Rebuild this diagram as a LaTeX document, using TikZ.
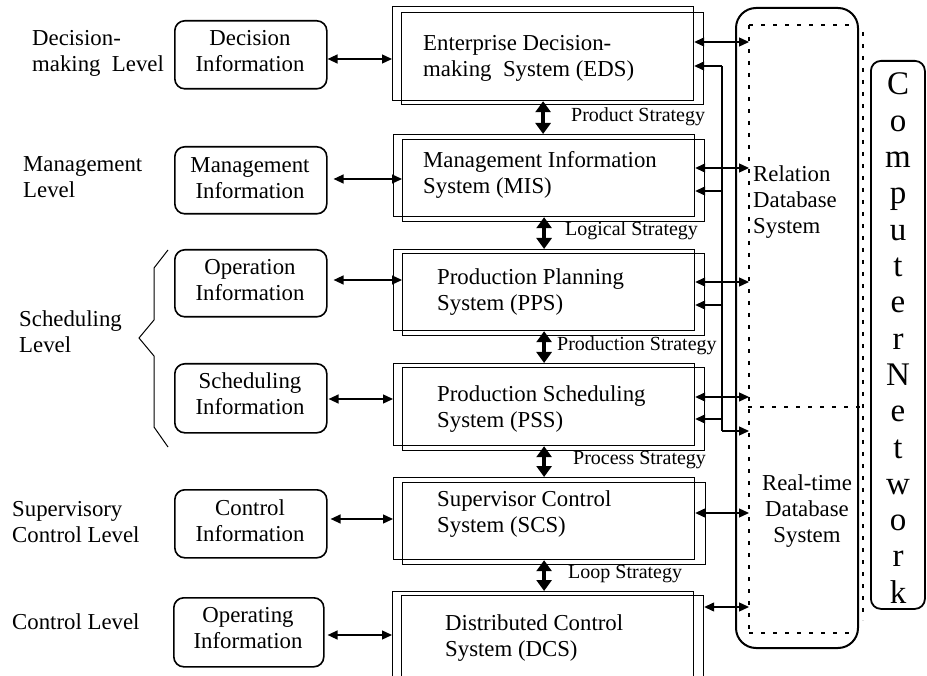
\documentclass[tikz,border=0pt]{standalone}
\usepackage{fontspec}
\setmainfont{Liberation Serif}
\usetikzlibrary{arrows.meta}

\tikzset{
  frame/.style={draw, line width=1.2pt, anchor=north west, inner sep=0pt,
    minimum width=#1},
  infobox/.style={draw, line width=1.6pt, rounded corners=10pt, anchor=north west,
    inner sep=0pt, minimum width=152pt},
  txt/.style={inner sep=0pt, font=\fontsize{22.8}{26}\selectfont},
  systxt/.style={txt, anchor=west, align=left},
  lvltxt/.style={txt, anchor=west, align=left},
  infotxt/.style={txt, align=center},
  strat/.style={inner sep=0pt, anchor=west, font=\fontsize{20}{22}\selectfont},
  flow/.style={line width=4.5pt,
    {Triangle[width=15pt,length=11pt]}-{Triangle[width=15pt,length=11pt]}},
  link/.style={line width=1.3pt,
    {Triangle[width=9pt,length=10pt]}-{Triangle[width=9pt,length=10pt]}},
  feed/.style={line width=1.3pt, -{Triangle[width=9pt,length=10pt]}},
  dotline/.style={line width=1.2pt, dash pattern=on 4pt off 8pt},
  netletter/.style={inner sep=0pt, anchor=base, font=\fontsize{33}{36}\selectfont},
}

\begin{document}
\begin{tikzpicture}[x=1pt,y=-1pt]
\useasboundingbox (0,0) rectangle (927,676);
\clip (0,0) rectangle (927,676);

% ---- system layers: each drawn as two offset frames ----
\node[frame=301pt, minimum height=94pt] (eds) at (392,6) {};
\node[frame=302pt, minimum height=92pt] (eds2) at (401,12) {};
\node[frame=301pt, minimum height=82pt] (mis) at (393,134) {};
\node[frame=302pt, minimum height=82pt] (mis2) at (402,139) {};
\node[frame=301pt, minimum height=81pt] (pps) at (393,249) {};
\node[frame=302pt, minimum height=82pt] (pps2) at (402,253) {};
\node[frame=301pt, minimum height=82pt] (pss) at (393,363) {};
\node[frame=302pt, minimum height=83pt] (pss2) at (402,367) {};
\node[frame=301pt, minimum height=82pt] (scs) at (393,477) {};
\node[frame=303pt, minimum height=82pt] (scs2) at (402,482) {};
\node[frame=301pt, minimum height=120pt] (dcs) at (392,591) {};
\node[frame=302pt, minimum height=120pt] (dcs2) at (401,595) {};

\node[systxt] (edsT) at (423,58.5) {Enterprise Decision-\\making\ \ System (EDS)};
\node[systxt] (misT) at (423,175) {Management Information\\System (MIS)};
\node[systxt] (ppsT) at (437,292.5) {Production Planning\\System (PPS)};
\node[systxt] (pssT) at (437,409) {Production Scheduling\\System (PSS)};
\node[systxt] (scsT) at (437,514.5) {Supervisor Control\\System (SCS)};
\node[systxt] (dcsT) at (445,638.5) {Distributed Control\\System (DCS)};

% ---- strategies passed between layers ----
\draw[flow] (eds.south) -- (eds.south |- mis.north);
\draw[flow] (mis.south) -- (mis.south |- pps.north);
\draw[flow] (pps.south) -- (pps.south |- pss.north);
\draw[flow] (pss.south) -- (pss.south |- scs.north);
\draw[flow] (scs.south) -- (scs.south |- dcs.north);

\node[strat] (s1) at (571,117) {Product Strategy};
\node[strat] (s2) at (565,231) {Logical Strategy};
\node[strat] (s3) at (557,346) {Production Strategy};
\node[strat] (s4) at (573,460) {Process Strategy};
\node[strat] (s5) at (568,574) {Loop Strategy};

% ---- information boxes ----
\node[infobox, minimum height=68pt] (decI) at (174,20) {};
\node[infobox, minimum height=67pt] (manI) at (174,146) {};
\node[infobox, minimum height=67pt] (opI) at (174,249) {};
\node[infobox, minimum height=69pt] (schI) at (174,363) {};
\node[infobox, minimum height=68pt] (conI) at (174,489) {};
\node[infobox, minimum height=69pt, minimum width=150pt] (opgI) at (173,597) {};

\node[infotxt] (decT) at (250,51.5) {Decision\\Information};
\node[infotxt] (manT) at (250,178.5) {Management\\Information};
\node[infotxt] (opT) at (250,280.5) {Operation\\Information};
\node[infotxt] (schT) at (250,393.5) {Scheduling\\Information};
\node[infotxt] (conT) at (250,521) {Control\\Information};
\node[infotxt] (opgT) at (248,628.5) {Operating\\Information};

\draw[link] (decI.east |- 0,59) -- (eds.west |- 0,59);
\draw[link] ([xshift=6pt]manI.east |- 0,179) -- (mis2.west |- 0,179);
\draw[link] ([xshift=6pt]opI.east |- 0,280) -- (pps2.west |- 0,280);
\draw[link] ([xshift=1pt]schI.east |- 0,399) -- (pss.west |- 0,399);
\draw[link] ([xshift=3pt]conI.east |- 0,519) -- (scs.west |- 0,519);
\draw[link] ([xshift=3pt]opgI.east |- 0,635) -- (dcs.west |- 0,635);

% ---- level labels ----
\node[lvltxt] (lv1) at (32,53.5) {Decision-\\making\ \ Level};
\node[lvltxt] (lv2) at (23,177) {Management\\Level};
\node[lvltxt] (lv3) at (19,331.5) {Scheduling\\Level};
\node[lvltxt] (lv4) at (12,522.5) {Supervisory\\Control Level};
\node[lvltxt] (lv5) at (12,622) {Control Level};

% brace around the two scheduling rows
\draw[line width=1pt] (168,250) -- (154,268) -- (154,320) -- (139,338)
  -- (154,356) -- (154,427) -- (168,447);

% ---- database block ----
\node[draw, line width=2pt, rounded corners=20pt, anchor=north west, inner sep=0pt,
  minimum width=122pt, minimum height=640pt] (db) at (735,7) {};
\coordinate (dbL) at (749,0);
\draw[dotline] (749,25) -- (857,25);
\draw[dotline] (749,25) -- (749,633);
\draw[dotline] (749,633) -- (857,633);
\draw[dotline] (748,407) -- (863,407);
\draw[dotline] (863,32) -- (863,620);

\node[txt, anchor=west, align=left] (rdb) at (753,202) {Relation\\Database\\System};
\node[txt, align=center] (rtdb) at (807,511) {Real-time\\Database\\System};

% exchanges between layers and databases
\draw[link] (eds.east |- 0,42) -- (dbL |- 0,42);
\draw[link] (mis.east |- 0,168) -- (dbL |- 0,168);
\draw[link] (pps.east |- 0,282) -- (dbL |- 0,282);
\draw[link] (pss.east |- 0,397) -- (dbL |- 0,397);
\draw[link] (scs.east |- 0,513) -- (dbL |- 0,513);
\draw[link] (dcs2.east |- 0,607) -- (dbL |- 0,607);

% feedback bus
\coordinate (bus) at (722,0);
\draw[line width=1.3pt] (bus |- 0,66) -- (bus |- 0,431);
\draw[feed] (bus |- 0,431) -- (dbL |- 0,431);
\draw[feed] (bus |- 0,66) -- (eds.east |- 0,66);
\draw[feed] (bus |- 0,191) -- (mis.east |- 0,191);
\draw[feed] (bus |- 0,305) -- (pps.east |- 0,305);
\draw[feed] (bus |- 0,419) -- (pss.east |- 0,419);

% ---- computer network column ----
\node[draw, line width=1.8pt, rounded corners=10pt, anchor=north west, inner sep=0pt,
  minimum width=54pt, minimum height=548pt] (cn) at (870,60) {};
\foreach \ch [count=\i from 0] in {C,o,m,p,u,t,e,r,N,e,t,w,o,r,k}
  \node[netletter] (cn\i) at (898,95+36.3*\i) {\ch};

\end{tikzpicture}
\end{document}
